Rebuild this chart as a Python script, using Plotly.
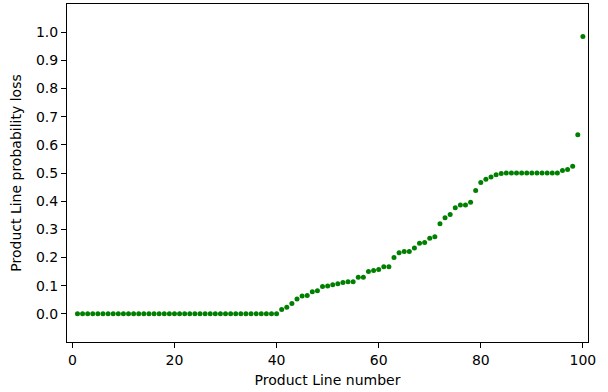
import plotly.graph_objects as go

product_line = list(range(1, 101))
prob_loss = [0.0] * 40 + [
    0.015, 0.023, 0.037, 0.053, 0.063, 0.065, 0.078, 0.082, 0.097, 0.099,
    0.103, 0.107, 0.111, 0.114, 0.114, 0.130, 0.130, 0.150, 0.154, 0.157,
    0.167, 0.167, 0.200, 0.217, 0.221, 0.221, 0.234, 0.251, 0.253, 0.268,
    0.274, 0.320, 0.341, 0.353, 0.377, 0.386, 0.386, 0.396, 0.438, 0.466,
    0.478, 0.486, 0.494, 0.498, 0.500, 0.500, 0.500, 0.500, 0.500, 0.500,
    0.500, 0.500, 0.500, 0.500, 0.500, 0.509, 0.512, 0.524, 0.636, 0.985,
]
x_ticks = [0, 20, 40, 60, 80, 100]
y_ticks = [round(i * 0.1, 1) for i in range(11)]

fig = go.Figure(go.Scatter(
    x=product_line, y=prob_loss, mode="markers",
    marker=dict(color="#008000", size=5, line=dict(width=0)),
))

font = dict(family="DejaVu Sans", size=14, color="black")
axis_common = dict(
    showline=True, mirror=True, linecolor="black", linewidth=1.1,
    ticks="outside", ticklen=5, tickwidth=1.1, tickcolor="black",
    showgrid=False, zeroline=False, tickfont=font,
)
fig.update_xaxes(range=[-1.05, 101], tickvals=x_ticks,
                 title=dict(text="Product Line number", font=font, standoff=8),
                 **axis_common)
fig.update_yaxes(range=[-0.1, 1.1], tickvals=y_ticks, tickformat=".1f",
                 title=dict(text="Product Line probability loss", font=font, standoff=10),
                 **axis_common)
fig.update_layout(
    width=608, height=392,
    margin=dict(l=67, r=20, t=4, b=50),
    plot_bgcolor="white", paper_bgcolor="white",
    showlegend=False, font=font,
)
fig.write_html("out.html")
